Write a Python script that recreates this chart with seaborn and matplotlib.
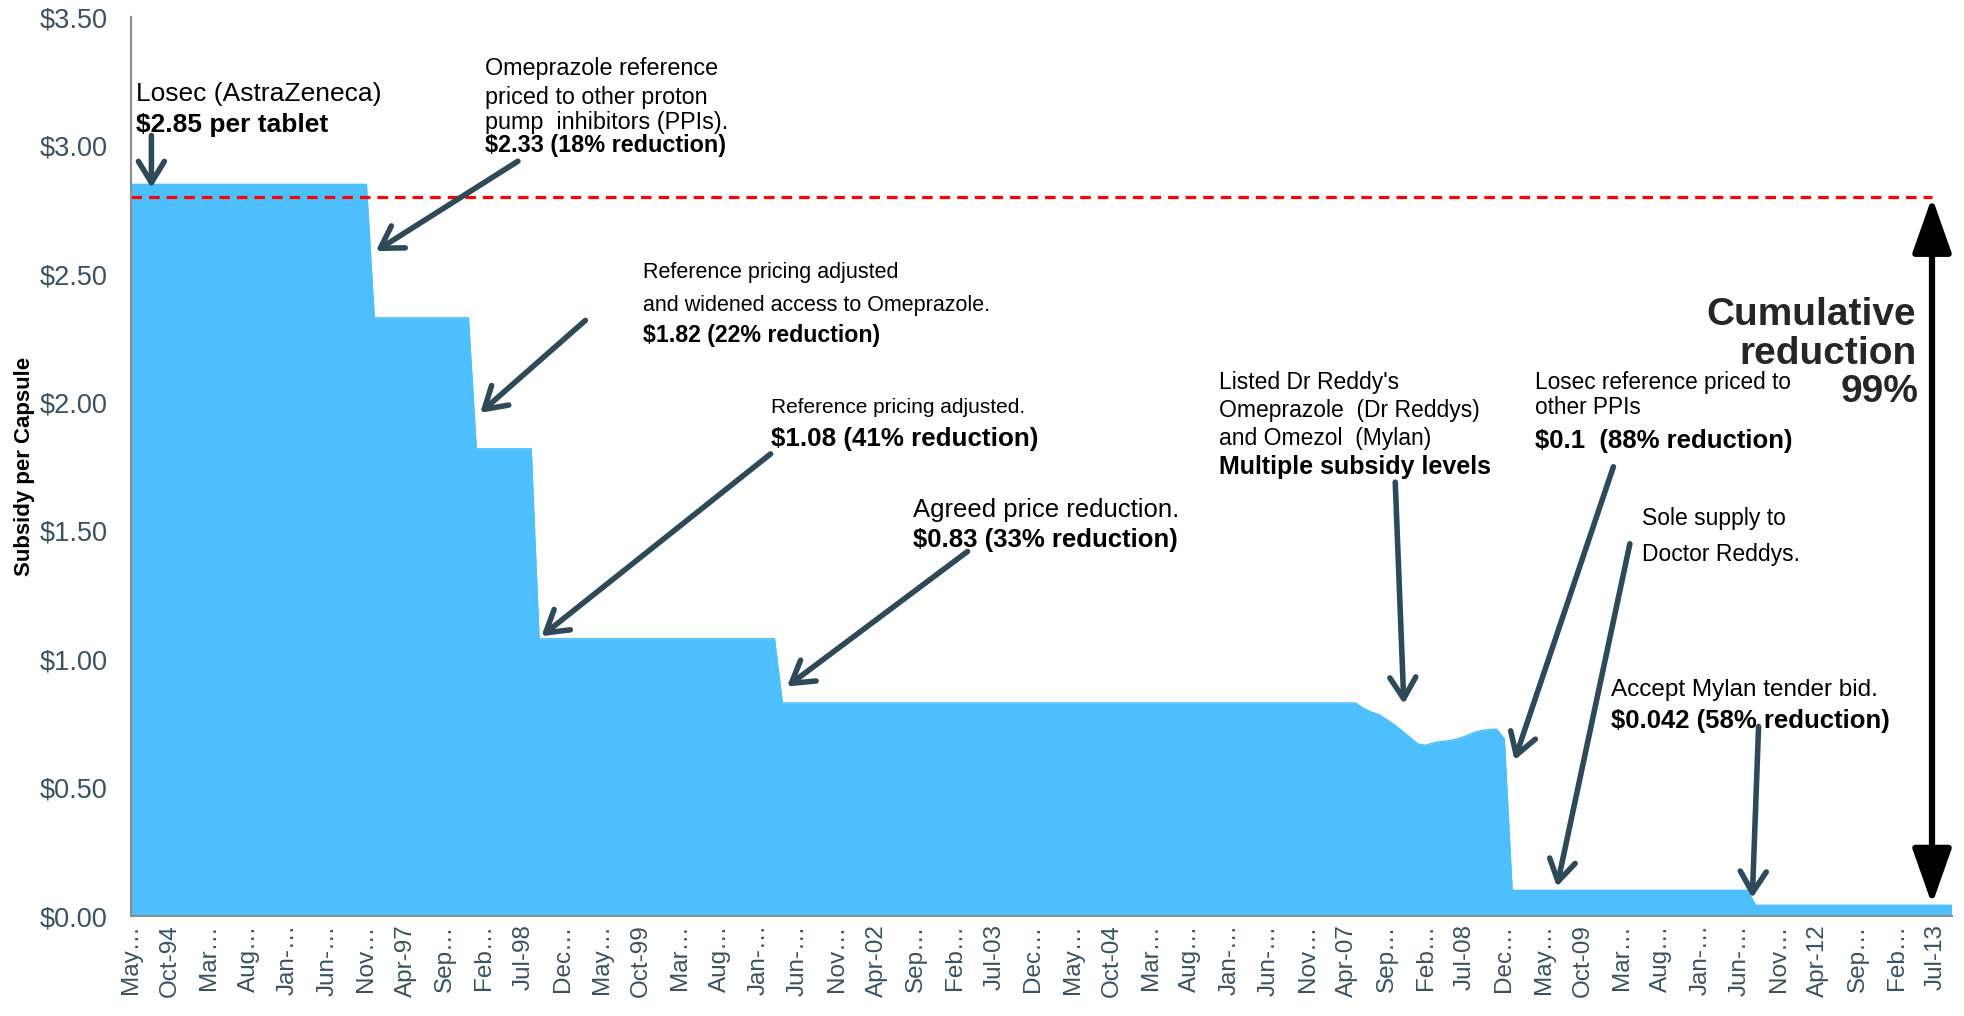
import matplotlib
matplotlib.use("Agg")
import matplotlib.pyplot as plt
import seaborn as sns
import numpy as np
import pandas as pd

# monthly subsidy, May-94 .. Sep-13 (233 months)
decline_07_08 = [0.81, 0.795, 0.785, 0.765, 0.745, 0.72, 0.695, 0.67, 0.665,
                 0.675, 0.68, 0.683, 0.69, 0.70, 0.713, 0.722, 0.726, 0.728, 0.69]
subsidy = ([2.85] * 31 + [2.33] * 13 + [1.82] * 8 + [1.08] * 31 + [0.83] * 74
           + decline_07_08 + [0.10] * 31 + [0.042] * 26)

tick_labels = ["May…", "Oct-94", "Mar…", "Aug…", "Jan-…", "Jun-…", "Nov…",
               "Apr-97", "Sep…", "Feb…", "Jul-98", "Dec…", "May…", "Oct-99",
               "Mar…", "Aug…", "Jan-…", "Jun-…", "Nov…", "Apr-02", "Sep…",
               "Feb…", "Jul-03", "Dec…", "May…", "Oct-04", "Mar…", "Aug…",
               "Jan-…", "Jun-…", "Nov…", "Apr-07", "Sep…", "Feb…", "Jul-08",
               "Dec…", "May…", "Oct-09", "Mar…", "Aug…", "Jan-…", "Jun-…",
               "Nov…", "Apr-12", "Sep…", "Feb…", "Jul-13"]
y_ticks = [0, 0.5, 1.0, 1.5, 2.0, 2.5, 3.0, 3.5]
baseline_price = 2.80

df = pd.DataFrame({"month": np.arange(len(subsidy)), "subsidy": subsidy})

sns.set_theme(style="white")
plt.rcParams["font.family"] = ["Liberation Sans", "DejaVu Sans"]

FILL = "#4dbffc"
ARROW = "#2e4a59"
TICK = "#3b5161"

fig = plt.figure(figsize=(19.64, 10.16), dpi=100)
ax = fig.add_axes([0.0667, 0.0984, 0.927, 0.8844])

ax.fill_between(df["month"], 0, df["subsidy"], color=FILL, lw=0)
sns.lineplot(data=df, x="month", y="subsidy", ax=ax, color=FILL, lw=1)

ax.set_xlim(0, len(subsidy) - 1)
ax.set_ylim(0, 3.5)
ax.set_xticks(np.arange(0, len(subsidy), 5)[:len(tick_labels)])
ax.set_xticklabels(tick_labels, rotation=90, fontsize=17.5, color=TICK)
ax.set_yticks(y_ticks)
ax.set_yticklabels([f"${v:.2f}" for v in y_ticks], fontsize=19.5, color=TICK)
ax.tick_params(axis="both", length=0)
ax.tick_params(axis="y", pad=17)
ax.tick_params(axis="x", pad=6)
ax.set_xlabel("")
ax.set_ylabel("Subsidy per Capsule", fontsize=16, fontweight="bold", color="black")
ax.yaxis.set_label_coords(-0.053, 0.5)
sns.despine(ax=ax)
for s in ("left", "bottom"):
    ax.spines[s].set_color("#8c8c8c")
    ax.spines[s].set_linewidth(1.5)

# reference line
ax.hlines(baseline_price, 0, 229.5, colors="red", lw=2.3, linestyles=(0, (3.3, 2.2)))

# annotation texts: (x, y, text, size, bold)
notes = [
    (0.6, 3.20, "Losec (AstraZeneca)", 19, False),
    (0.6, 3.08, "$2.85 per tablet", 19, True),
    (45.1, 3.30, "Omeprazole reference", 16.8, False),
    (45.1, 3.19, "priced to other proton", 16.8, False),
    (45.1, 3.09, "pump  inhibitors (PPIs).", 16.8, False),
    (45.1, 3.00, "$2.33 (18% reduction)", 16.8, True),
    (65.3, 2.505, "Reference pricing adjusted", 15.5, False),
    (65.3, 2.38, "and widened access to Omeprazole.", 15.5, False),
    (65.3, 2.26, "$1.82 (22% reduction)", 16.7, True),
    (81.5, 1.98, "Reference pricing adjusted.", 15, False),
    (81.5, 1.86, "$1.08 (41% reduction)", 18.7, True),
    (99.6, 1.58, "Agreed price reduction.", 18.5, False),
    (99.6, 1.465, "$0.83 (33% reduction)", 18.5, True),
    (138.7, 2.08, "Listed Dr Reddy's", 16.5, False),
    (138.7, 1.97, "Omeprazole  (Dr Reddys)", 16.5, False),
    (138.7, 1.86, "and Omezol  (Mylan)", 16.5, False),
    (138.7, 1.75, "Multiple subsidy levels", 18, True),
    (178.9, 2.08, "Losec reference priced to", 16.3, False),
    (178.9, 1.98, "other PPIs", 16.3, False),
    (178.9, 1.85, "$0.1  (88% reduction)", 18.5, True),
    (192.6, 1.55, "Sole supply to", 16.5, False),
    (192.6, 1.41, "Doctor Reddys.", 16.5, False),
    (188.6, 0.88, "Accept Mylan tender bid.", 17.5, False),
    (188.6, 0.76, "$0.042 (58% reduction)", 18.5, True),
]
for x, y, t, fs, b in notes:
    ax.text(x, y, t, fontsize=fs, va="center", ha="left", color="black",
            fontweight="bold" if b else "normal")

# cumulative label, right-aligned against the double arrow
ax.text(227.5, 2.34, "Cumulative", fontsize=28, fontweight="bold", ha="right", va="center")
ax.text(227.5, 2.19, "reduction", fontsize=28, fontweight="bold", ha="right", va="center")
ax.text(227.8, 2.04, "99%", fontsize=28, fontweight="bold", ha="right", va="center")

# arrows: (start, end)
arrows = [
    ((2.6, 3.04), (2.6, 2.836)),
    ((49.3, 2.94), (31.2, 2.59)),
    ((57.9, 2.32), (44.5, 1.96)),
    ((81.5, 1.80), (52.3, 1.09)),
    ((106.6, 1.42), (83.6, 0.894)),
    ((161.1, 1.69), (162.2, 0.826)),
    ((188.9, 1.75), (176.3, 0.607)),
    ((191.0, 1.45), (181.7, 0.114)),
    ((207.4, 0.738), (206.6, 0.07)),
]
for (x0, y0), (x1, y1) in arrows:
    ax.annotate("", xy=(x1, y1), xytext=(x0, y0),
                arrowprops=dict(arrowstyle="->,head_length=0.9,head_width=0.55",
                                color=ARROW, lw=4, mutation_scale=17,
                                shrinkA=0, shrinkB=0))

ax.annotate("", xy=(229.5, 0.045), xytext=(229.5, baseline_price),
            arrowprops=dict(arrowstyle="<|-|>,head_length=1.7,head_width=0.6",
                            color="black", lw=4.5, mutation_scale=20,
                            shrinkA=0, shrinkB=0))

fig.savefig("out.png", dpi=100)
